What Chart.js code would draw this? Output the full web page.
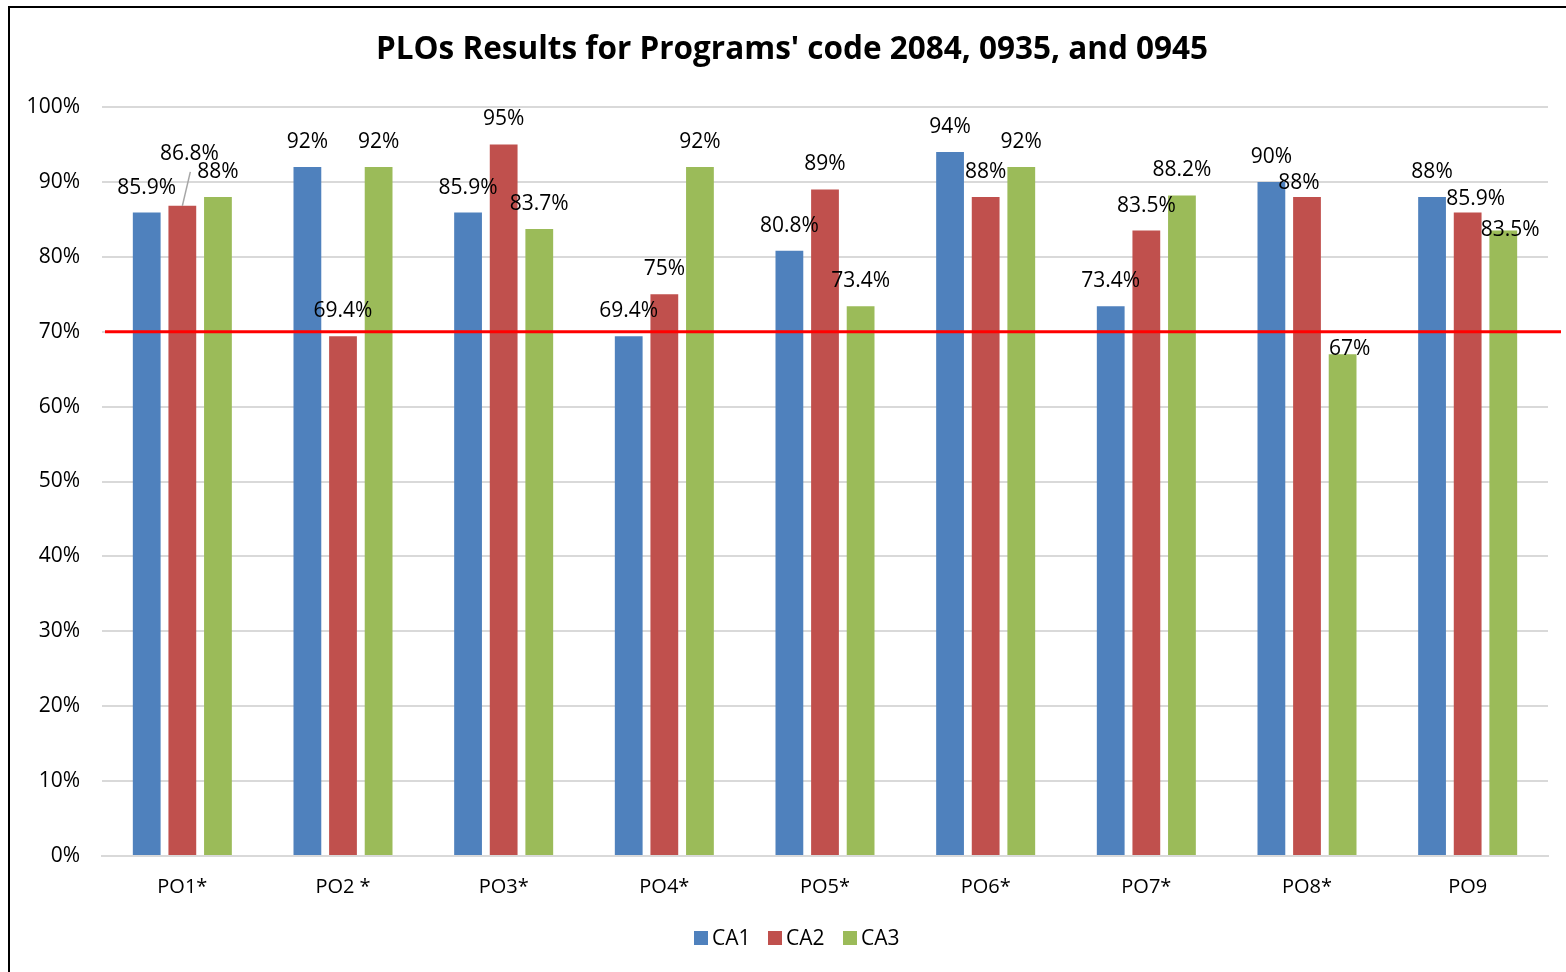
<!DOCTYPE html>
<html>
<head>
<meta charset="utf-8">
<script src="https://cdn.jsdelivr.net/npm/chart.js@4.4.1/dist/chart.umd.min.js"></script>
<style>
  html, body { margin: 0; padding: 0; background: #fff; overflow: hidden; }
  #wrap { position: absolute; left: 0; top: 0; width: 1566px; height: 972px; }
  #frame { position: absolute; left: 8px; top: 6px; width: 1600px; height: 1000px; border-left: 2px solid #000; border-top: 2px solid #000; pointer-events: none; }
</style>
</head>
<body>
<div id="wrap"><canvas id="c" width="1566" height="972"></canvas></div>
<div id="frame"></div>
<script>
const titleText = "PLOs Results for Programs' code 2084, 0935, and 0945";
const categories = ["PO1*", "PO2 *", "PO3*", "PO4*", "PO5*", "PO6*", "PO7*", "PO8*", "PO9"];
const seriesNames = ["CA1", "CA2", "CA3"];
const ca1 = [85.9, 92, 85.9, 69.4, 80.8, 94, 73.4, 90, 88];
const ca2 = [86.8, 69.4, 95, 75, 89, 88, 83.5, 88, 85.9];
const ca3 = [88, 92, 83.7, 92, 73.4, 92, 88.2, 67, 83.5];
const yTicks = [0, 10, 20, 30, 40, 50, 60, 70, 80, 90, 100];
const targetValue = 70;

const colors = ["#4F81BD", "#C0504D", "#9BBB59"];
const FONT = "'Open Sans', 'DejaVu Sans', sans-serif";

// label nudges (pixels) for labels that Excel moved: [series]-[category] = [dx, dy, leaderLine]
const labelNudge = {
  "1-0": [7, -27, true],
  "1-7": [-8, 11],
  "1-8": [8, 11],
  "2-7": [7, 20],
  "2-8": [7, 24]
};

const decorations = {
  id: 'decorations',
  afterDatasetsDraw(chart) {
    const ctx = chart.ctx;
    const yS = chart.scales.y;
    const ca = chart.chartArea;
    ctx.save();
    // target line
    const ty = yS.getPixelForValue(targetValue);
    ctx.strokeStyle = '#FF0000';
    ctx.lineWidth = 3;
    ctx.beginPath();
    ctx.moveTo(ca.left + 3, ty);
    ctx.lineTo(ca.right + 13, ty);
    ctx.stroke();
    // value labels
    ctx.font = "21px " + FONT;
    ctx.fillStyle = '#000';
    ctx.textAlign = 'center';
    ctx.textBaseline = 'middle';
    chart.data.datasets.forEach((ds, si) => {
      const meta = chart.getDatasetMeta(si);
      meta.data.forEach((bar, i) => {
        const n = labelNudge[si + '-' + i] || [0, 0];
        const x = bar.x + n[0];
        const y = bar.y - 25 + n[1];
        if (n[2]) {
          ctx.strokeStyle = '#A6A6A6';
          ctx.lineWidth = 1.5;
          ctx.beginPath();
          ctx.moveTo(x + 1, y + 18);
          ctx.lineTo(bar.x, bar.y);
          ctx.stroke();
        }
        ctx.fillText(ds.data[i] + '%', x, y);
      });
    });
    // title
    ctx.font = "bold 31.5px " + FONT;
    ctx.textAlign = 'center';
    ctx.fillText(titleText, 792, 50);
    // legend
    const legendX = [694, 768, 843];
    ctx.font = "21px " + FONT;
    ctx.textAlign = 'left';
    seriesNames.forEach((name, i) => {
      ctx.fillStyle = colors[i];
      ctx.fillRect(legendX[i], 931, 14, 14);
      ctx.fillStyle = '#000';
      ctx.fillText(name, legendX[i] + 18, 939);
    });
    ctx.restore();
  }
};

new Chart(document.getElementById('c'), {
  type: 'bar',
  data: {
    labels: categories,
    datasets: [ca1, ca2, ca3].map((d, i) => ({
      label: seriesNames[i],
      data: d,
      backgroundColor: colors[i],
      borderWidth: 0,
      barPercentage: 0.78,
      categoryPercentage: 0.665
    }))
  },
  options: {
    responsive: false,
    animation: false,
    devicePixelRatio: 1,
    layout: { padding: { left: 10, right: 18, top: 107, bottom: 73 } },
    plugins: {
      title: { display: false },
      legend: { display: false },
      tooltip: { enabled: false }
    },
    scales: {
      x: {
        afterFit(scale) { scale.height = 43; },
        grid: { display: false, drawTicks: false },
        border: { display: true, color: '#D9D9D9', width: 2 },
        ticks: { color: '#000', font: { family: FONT, size: 20 }, padding: 19 }
      },
      y: {
        min: 0, max: 100,
        afterBuildTicks(scale) { scale.ticks = yTicks.map(v => ({ value: v })); },
        afterFit(scale) { scale.width = 92; },
        grid: { color: '#D9D9D9', lineWidth: 2, drawTicks: false },
        border: { display: false },
        ticks: { color: '#000', font: { family: FONT, size: 21 }, padding: 22, callback: v => v + '%' }
      }
    }
  },
  plugins: [decorations]
});
</script>
</body>
</html>
